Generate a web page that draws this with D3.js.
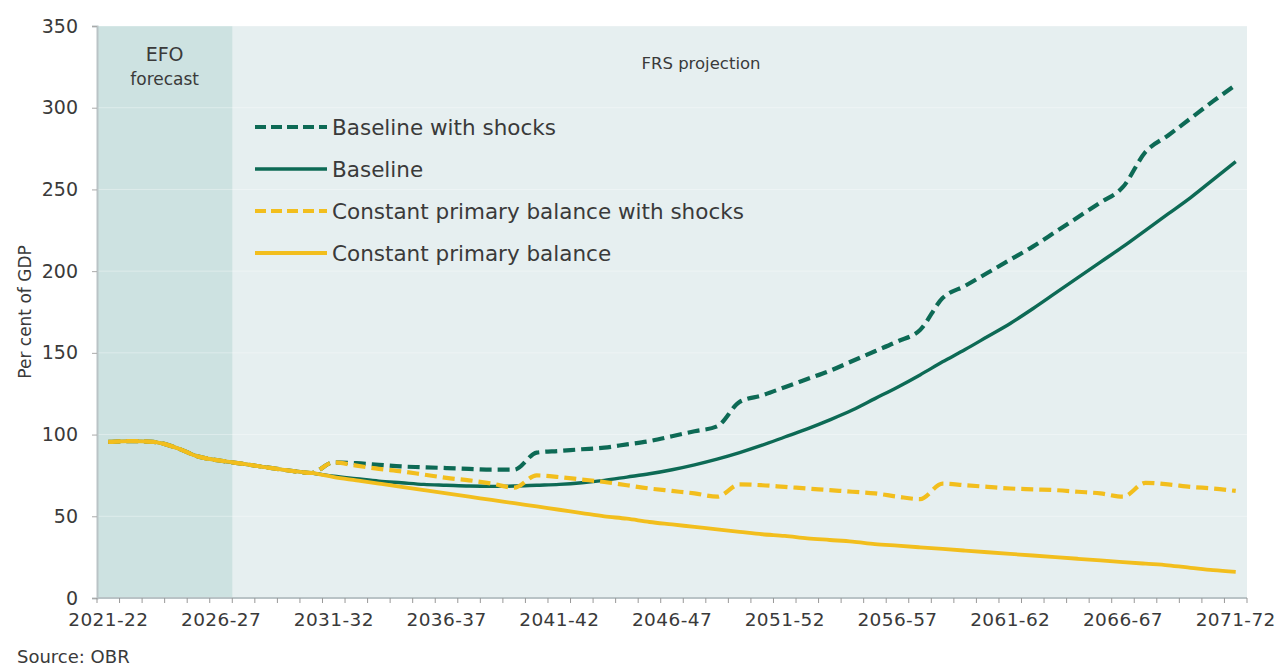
<!DOCTYPE html>
<html>
<head>
<meta charset="utf-8">
<script src="https://cdn.jsdelivr.net/npm/d3@7"></script>
<style>
  html, body { margin: 0; padding: 0; background: #ffffff; }
  svg { display: block; font-family: "DejaVu Sans", sans-serif; }
</style>
</head>
<body>
<svg id="chart" width="1277" height="667"></svg>
<script>
// ---------- DATA ----------
const categories = [
  "2021-22","2022-23","2023-24","2024-25","2025-26","2026-27","2027-28","2028-29","2029-30","2030-31",
  "2031-32","2032-33","2033-34","2034-35","2035-36","2036-37","2037-38","2038-39","2039-40","2040-41",
  "2041-42","2042-43","2043-44","2044-45","2045-46","2046-47","2047-48","2048-49","2049-50","2050-51",
  "2051-52","2052-53","2053-54","2054-55","2055-56","2056-57","2057-58","2058-59","2059-60","2060-61",
  "2061-62","2062-63","2063-64","2064-65","2065-66","2066-67","2067-68","2068-69","2069-70","2070-71",
  "2071-72"
];

const baselineWithShocks = [
  95.5, 96, 95.5, 92, 86.5, 84, 82, 80, 78, 76.5,
  83, 82.5, 81.5, 80.5, 80, 79.5, 79, 78.5, 78.5,
  89, 90, 91, 92, 94, 96, 99, 102, 105,
  120, 124, 129, 134, 139, 145, 151, 157, 164,
  183.5, 191, 199, 207, 215, 224, 233, 242, 251.5,
  273, 283, 293.5, 304, 314
];

const baseline = [
  95.5, 96, 95.5, 92, 86.5, 84, 82, 80, 78, 76.5,
  74.5, 73, 71.5, 70.5, 69.5, 69, 68.5, 68.3, 68.5, 69,
  69.5, 70.5, 72, 74, 76, 78.5, 81.5, 85, 89, 93.5,
  98.5, 103.5, 109, 115, 122, 129, 136.5, 144.5, 152, 160,
  168, 177, 186.5, 196, 205.5, 215, 225, 235, 245, 256, 267
];

const cpbWithShocks = [
  95.5, 96, 95.5, 92, 86.5, 84, 82, 80, 78, 76.5,
  83, 81, 79, 77.5, 75.5, 73.5, 72, 70, 67.5,
  75, 74, 72.5, 71, 69, 67, 65.5, 64, 62,
  69.5, 69, 68, 67, 66, 65, 64, 62, 60.5,
  70, 69, 68, 67, 66.5, 66, 65, 64, 62,
  70.5, 69.5, 68, 67, 65.5
];

const constantPrimaryBalance = [
  95.5, 96, 95.5, 92, 86.5, 84, 82, 80, 78, 76.5,
  74, 72, 70, 68, 66, 64, 62, 60, 58, 56,
  54, 52, 50, 48.5, 46.5, 45, 43.5, 42, 40.5, 39,
  38, 36.5, 35.5, 34.5, 33, 32, 31, 30, 29, 28,
  27, 26, 25, 24, 23, 22, 21, 20, 18.5, 17, 16
];

const yTicks = [0, 50, 100, 150, 200, 250, 300, 350];
const xTickLabels = ["2021-22","2026-27","2031-32","2036-37","2041-42","2046-47","2051-52","2056-57","2061-62","2066-67","2071-72"];
const efoCategories = ["2021-22","2022-23","2023-24","2024-25","2025-26","2026-27"];

const seriesNames = ["Baseline with shocks", "Baseline", "Constant primary balance with shocks", "Constant primary balance"];

// ---------- STYLE ----------
const GREEN = "#0d6a55";
const YELLOW = "#f2be1d";
const TEXT = "#3a3a3a";
const styles = [
  { color: GREEN, dash: "12,6", width: 4.2 },
  { color: GREEN, dash: null, width: 3.4 },
  { color: YELLOW, dash: "12,6", width: 4.2 },
  { color: YELLOW, dash: null, width: 3.8 }
];
const seriesData = [baselineWithShocks, baseline, cpbWithShocks, constantPrimaryBalance];

// ---------- LAYOUT ----------
const svg = d3.select("#chart");
const margin = { left: 97, right: 30, top: 26, bottom: 69 };
const W = 1277, H = 667;
const innerW = W - margin.left - margin.right;
const innerH = H - margin.top - margin.bottom;

const x = d3.scaleBand().domain(categories).range([0, innerW]).padding(0);
const y = d3.scaleLinear().domain([0, 350]).range([innerH, 0]);

const g = svg.append("g").attr("transform", `translate(${margin.left},${margin.top})`);

// backgrounds
g.append("rect").attr("x", 0).attr("y", 0).attr("width", innerW).attr("height", innerH).attr("fill", "#e6eff0");
const efoEnd = x(efoCategories[efoCategories.length - 1]) + x.bandwidth();
g.append("rect").attr("x", 0).attr("y", 0).attr("width", efoEnd).attr("height", innerH).attr("fill", "#cde2e1");

// faint gridlines
g.selectAll(".grid").data(yTicks.filter(d => d > 0)).enter().append("line")
  .attr("x1", 0).attr("x2", innerW)
  .attr("y1", d => y(d)).attr("y2", d => y(d))
  .attr("stroke", "#ffffff").attr("stroke-opacity", 0.35).attr("stroke-width", 1);

// region labels
g.append("text").attr("x", efoEnd / 2).attr("y", 35).attr("text-anchor", "middle")
  .attr("font-size", 19).attr("fill", TEXT).text("EFO");
g.append("text").attr("x", efoEnd / 2).attr("y", 59).attr("text-anchor", "middle")
  .attr("font-size", 17).attr("fill", TEXT).text("forecast");
g.append("text").attr("x", 604).attr("y", 43).attr("text-anchor", "middle")
  .attr("font-size", 16.5).attr("fill", TEXT).text("FRS projection");

// y axis
const yAxis = d3.axisLeft(y).tickValues(yTicks).tickSize(5).tickPadding(14);
const ya = g.append("g").call(yAxis);
ya.select(".domain").attr("stroke", "#b9c3c6").attr("stroke-width", 2);
ya.selectAll(".tick line").attr("stroke", "#aaa");
ya.selectAll(".tick text").attr("font-size", 19).attr("fill", TEXT).attr("font-family", "DejaVu Sans, sans-serif");

// x axis: ticks at category boundaries, labels at centres
const xAxisG = g.append("g").attr("transform", `translate(0,${innerH})`);
xAxisG.append("line").attr("x1", 0).attr("x2", innerW).attr("y1", 0).attr("y2", 0)
  .attr("stroke", "#b9c3c6").attr("stroke-width", 2);
const boundaries = categories.map(c => x(c)).concat([innerW]);
xAxisG.selectAll(".xt").data(boundaries).enter().append("line")
  .attr("x1", d => d).attr("x2", d => d).attr("y1", 0).attr("y2", 5)
  .attr("stroke", "#999");
const xLabelAxis = d3.axisBottom(x).tickValues(xTickLabels).tickSize(0).tickPadding(15);
const xl = g.append("g").attr("transform", `translate(0,${innerH})`).call(xLabelAxis);
xl.select(".domain").remove();
xl.selectAll(".tick text").attr("font-size", 18.5).attr("fill", TEXT)
  .attr("font-family", "DejaVu Sans, sans-serif").attr("letter-spacing", 0.4);

// y axis title
svg.append("text").attr("transform", `translate(31,${margin.top + y(175)}) rotate(-90)`)
  .attr("text-anchor", "middle").attr("font-size", 17).attr("fill", TEXT).text("Per cent of GDP");

// lines
const line = d3.line()
  .x((d, i) => x(categories[i]) + x.bandwidth() / 2)
  .y(d => y(d))
  .curve(d3.curveMonotoneX);

seriesData.forEach((data, k) => {
  const s = styles[k];
  g.append("path").datum(data)
    .attr("fill", "none")
    .attr("stroke", s.color)
    .attr("stroke-width", s.width)
    .attr("stroke-dasharray", s.dash)
    .attr("stroke-linejoin", "round")
    .attr("d", line);
});

// legend
const legend = g.append("g").attr("transform", `translate(158,101)`);
seriesNames.forEach((name, k) => {
  const s = styles[k];
  const row = legend.append("g").attr("transform", `translate(0,${k * 42})`);
  row.append("line").attr("x1", 0).attr("x2", 72).attr("y1", 0).attr("y2", 0)
    .attr("stroke", s.color).attr("stroke-width", s.width)
    .attr("stroke-dasharray", s.dash ? "11,5" : null);
  row.append("text").attr("x", 77).attr("y", 7.5).attr("font-size", 21.5).attr("fill", TEXT).text(name);
});

// source
svg.append("text").attr("x", 17).attr("y", 663).attr("font-size", 18).attr("fill", TEXT).text("Source: OBR");
</script>
</body>
</html>
